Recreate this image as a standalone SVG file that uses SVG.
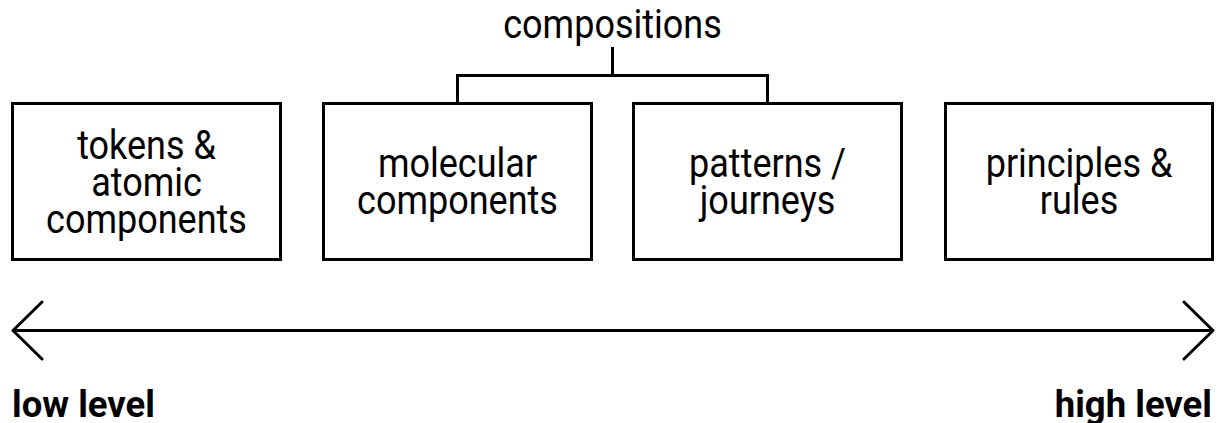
<svg xmlns="http://www.w3.org/2000/svg" width="1221" height="423" viewBox="0 0 1221 423">
<style>
.box{fill:#fff;stroke:#000;stroke-width:3}
.ln{fill:none;stroke:#000;stroke-width:3}
.t{font-family:Roboto,"Liberation Sans",sans-serif;font-size:36px;fill:#000;text-anchor:middle}
.b{font-family:Roboto,"Liberation Sans",sans-serif;font-size:36.5px;font-weight:bold;fill:#000}
</style>
<rect width="1221" height="423" fill="#fff"/>
<g id="connectors">
<path class="ln" d="M612.5 47 V75.5 M457.5 103 V75.5 H767.5 V103"/>
<path class="ln" d="M13 330.5 H1213 M42 302 L13 330.5 L42 359 M1184 302 L1213 330.5 L1184 359" stroke-linecap="round" stroke-linejoin="round"/>
</g>
<g id="compositions"><text class="t" transform="translate(612.5,38) scale(1,1.13)">compositions</text></g>
<g id="n1"><rect class="box" x="12.5" y="103.5" width="268" height="156"/>
<text class="t" transform="translate(146.5,158.5) scale(1,1.13)">tokens &amp;</text>
<text class="t" transform="translate(146.5,195.5) scale(1,1.13)">atomic</text>
<text class="t" transform="translate(146.5,232.5) scale(1,1.13)">components</text></g>
<g id="n2"><rect class="box" x="323.5" y="103.5" width="268" height="156"/>
<text class="t" transform="translate(457.5,177) scale(1,1.13)">molecular</text>
<text class="t" transform="translate(457.5,214) scale(1,1.13)">components</text></g>
<g id="n3"><rect class="box" x="633.5" y="103.5" width="268" height="156"/>
<text class="t" transform="translate(767.5,177) scale(1,1.13)">patterns /</text>
<text class="t" transform="translate(767.5,214) scale(1,1.13)">journeys</text></g>
<g id="n4"><rect class="box" x="945.5" y="103.5" width="267" height="156"/>
<text class="t" transform="translate(1079,177) scale(1,1.13)">principles &amp;</text>
<text class="t" transform="translate(1079,214) scale(1,1.13)">rules</text></g>
<g id="low"><text class="b" x="12" y="417">low level</text></g>
<g id="high"><text class="b" x="1212" y="417" text-anchor="end">high level</text></g>
</svg>
